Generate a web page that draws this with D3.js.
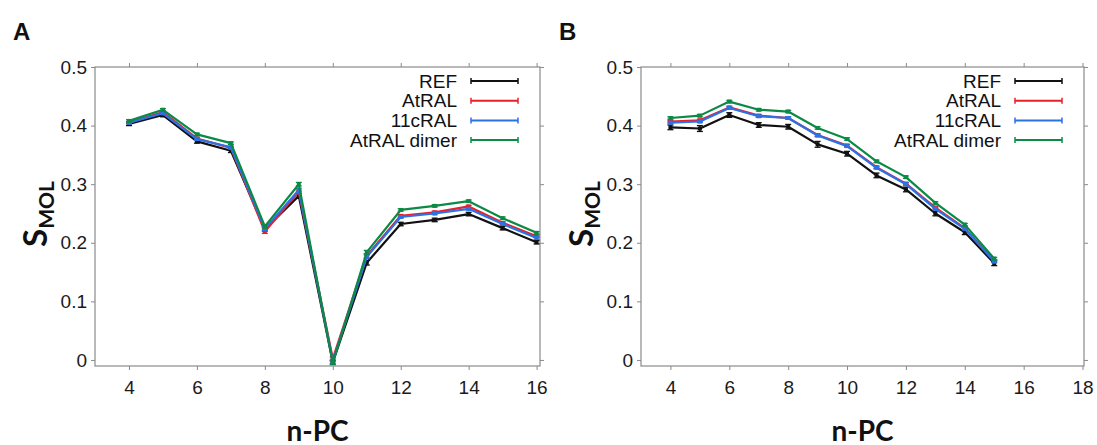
<!DOCTYPE html>
<html>
<head>
<meta charset="utf-8">
<script src="https://cdn.jsdelivr.net/npm/d3@7"></script>
<style>
body { margin: 0; background: #fff; }
text { font-family: "Liberation Sans", Arial, sans-serif; }
</style>
</head>
<body>
<svg width="1097" height="445"></svg>
<script>
// series names / colours
var seriesNames = ["REF", "AtRAL", "11cRAL", "AtRAL dimer"]
var seriesColors = ["#111111", "#e8202a", "#2a72e6", "#0b8a45"]

// panel A : n-PC 4..16
var nA = [4, 5, 6, 7, 8, 9, 10, 11, 12, 13, 14, 15, 16]
var refA   = [0.403, 0.418, 0.373, 0.357, 0.223, 0.280, -0.004, 0.166, 0.232, 0.239, 0.249, 0.225, 0.201]
var atralA = [0.405, 0.423, 0.378, 0.362, 0.219, 0.287,  0.002, 0.178, 0.246, 0.252, 0.262, 0.234, 0.211]
var cralA  = [0.405, 0.421, 0.377, 0.363, 0.224, 0.290, -0.002, 0.176, 0.244, 0.250, 0.258, 0.232, 0.208]
var dimerA = [0.408, 0.427, 0.385, 0.370, 0.228, 0.300, -0.005, 0.184, 0.256, 0.263, 0.271, 0.242, 0.217]
var errRefA   = [0.003, 0.003, 0.003, 0.003, 0.003, 0.004, 0.003, 0.004, 0.003, 0.003, 0.003, 0.003, 0.003]
var errOtherA = [0.002, 0.002, 0.002, 0.002, 0.003, 0.003, 0.003, 0.003, 0.002, 0.002, 0.002, 0.002, 0.002]

// panel B : n-PC 4..15
var nB = [4, 5, 6, 7, 8, 9, 10, 11, 12, 13, 14, 15]
var refB   = [0.397, 0.395, 0.418, 0.401, 0.398, 0.368, 0.352, 0.315, 0.291, 0.250, 0.218, 0.165]
var atralB = [0.407, 0.409, 0.431, 0.417, 0.413, 0.384, 0.366, 0.329, 0.301, 0.260, 0.225, 0.169]
var cralB  = [0.405, 0.407, 0.430, 0.416, 0.413, 0.383, 0.365, 0.328, 0.300, 0.258, 0.224, 0.168]
var dimerB = [0.413, 0.417, 0.441, 0.427, 0.424, 0.396, 0.377, 0.339, 0.312, 0.268, 0.231, 0.173]
var errRefB   = [0.004, 0.005, 0.004, 0.004, 0.004, 0.005, 0.004, 0.004, 0.004, 0.004, 0.004, 0.004]
var errOtherB = [0.002, 0.002, 0.002, 0.002, 0.002, 0.002, 0.002, 0.002, 0.002, 0.002, 0.002, 0.002]

var yTicks = [0, 0.1, 0.2, 0.3, 0.4, 0.5]
var xTicksA = [4, 6, 8, 10, 12, 14, 16]
var xTicksB = [4, 6, 8, 10, 12, 14, 16, 18]

var svg = d3.select("svg")
var plotTop = 67, plotBottom = 366

var panels = [
  { label: "A", left: 95, right: 540, xDomain: [3, 16.1], xTicks: xTicksA, n: nA,
    series: [refA, atralA, cralA, dimerA], err: [errRefA, errOtherA, errOtherA, errOtherA] },
  { label: "B", left: 641, right: 1084, xDomain: [3, 18.05], xTicks: xTicksB, n: nB,
    series: [refB, atralB, cralB, dimerB], err: [errRefB, errOtherB, errOtherB, errOtherB] }
]

var drawPanel = function(p)
{
  var x = d3.scaleLinear().domain(p.xDomain).range([p.left, p.right])
  var y = d3.scaleLinear().domain([-0.0103, 0.5]).range([plotBottom, plotTop])
  var g = svg.append("g")

  var styleAxis = function(sel, labels)
  {
    sel.select(".domain").remove()
    sel.selectAll(".tick line").attr("stroke", "#8a8a8a")
    sel.selectAll(".tick text").attr("fill", "#1a1a1a").style("font-size", "19px")
    if (!labels) sel.selectAll(".tick text").remove()
  }

  g.append("g").attr("transform", "translate(" + p.left + ",0)")
    .call(d3.axisLeft(y).tickValues(yTicks).tickSize(4).tickPadding(4)
      .tickFormat(function(d) { return d === 0 ? "0" : d3.format(".1f")(d) }))
    .call(styleAxis, true)
  g.append("g").attr("transform", "translate(" + p.right + ",0)")
    .call(d3.axisRight(y).tickValues(yTicks).tickSize(4))
    .call(styleAxis, false)
  g.append("g").attr("transform", "translate(0," + plotBottom + ")")
    .call(d3.axisBottom(x).tickValues(p.xTicks).tickSize(4).tickPadding(11))
    .call(styleAxis, true)
  g.append("g").attr("transform", "translate(0," + plotTop + ")")
    .call(d3.axisTop(x).tickValues(p.xTicks).tickSize(4))
    .call(styleAxis, false)

  g.append("rect")
    .attr("x", p.left).attr("y", plotTop)
    .attr("width", p.right - p.left).attr("height", plotBottom - plotTop)
    .attr("fill", "none").attr("stroke", "#8a8a8a").attr("stroke-width", 1.2)

  var line = d3.line()
    .x(function(d) { return x(d.n) })
    .y(function(d) { return y(d.v) })

  p.series.forEach(function(vals, i)
  {
    var pts = vals.map(function(v, j) { return { n: p.n[j], v: v, e: p.err[i][j] } })
    var color = seriesColors[i]
    var sg = g.append("g")
    sg.append("path").datum(pts)
      .attr("d", line).attr("fill", "none")
      .attr("stroke", color).attr("stroke-width", 2.2)
      .attr("stroke-linejoin", "round")
    var eb = sg.selectAll(".eb").data(pts).enter().append("g")
    eb.append("line")
      .attr("x1", function(d) { return x(d.n) }).attr("x2", function(d) { return x(d.n) })
      .attr("y1", function(d) { return y(d.v - d.e) }).attr("y2", function(d) { return y(d.v + d.e) })
      .attr("stroke", color).attr("stroke-width", 1.5)
    eb.append("line")
      .attr("x1", function(d) { return x(d.n) - 3 }).attr("x2", function(d) { return x(d.n) + 3 })
      .attr("y1", function(d) { return y(d.v + d.e) }).attr("y2", function(d) { return y(d.v + d.e) })
      .attr("stroke", color).attr("stroke-width", 1.3)
    eb.append("line")
      .attr("x1", function(d) { return x(d.n) - 3 }).attr("x2", function(d) { return x(d.n) + 3 })
      .attr("y1", function(d) { return y(d.v - d.e) }).attr("y2", function(d) { return y(d.v - d.e) })
      .attr("stroke", color).attr("stroke-width", 1.3)
    eb.append("rect")
      .attr("x", function(d) { return x(d.n) - 2 }).attr("y", function(d) { return y(d.v) - 2 })
      .attr("width", 4).attr("height", 4).attr("fill", color)
  })

  // legend
  var lx = p.right - 22
  var leg = g.selectAll(".leg").data(seriesNames).enter().append("g")
    .attr("transform", function(d, i) { return "translate(0," + (81 + i * 19.7) + ")" })
  leg.append("text")
    .attr("x", lx - 61).attr("dy", "0.35em").attr("text-anchor", "end")
    .style("font-size", "19px").attr("fill", "#111")
    .text(function(d) { return d })
  leg.append("line")
    .attr("x1", lx - 47).attr("x2", lx).attr("y1", 0).attr("y2", 0)
    .attr("stroke", function(d, i) { return seriesColors[i] }).attr("stroke-width", 2)
  leg.append("line")
    .attr("x1", lx - 47).attr("x2", lx - 47).attr("y1", -3).attr("y2", 3)
    .attr("stroke", function(d, i) { return seriesColors[i] }).attr("stroke-width", 1.5)
  leg.append("line")
    .attr("x1", lx).attr("x2", lx).attr("y1", -3).attr("y2", 3)
    .attr("stroke", function(d, i) { return seriesColors[i] }).attr("stroke-width", 1.5)

  // axis titles
  g.append("text")
    .attr("x", (p.left + p.right) / 2).attr("y", 441)
    .attr("text-anchor", "middle")
    .style("font-family", "Lato, 'Open Sans', sans-serif").style("font-weight", "bold")
    .style("font-size", "28px").attr("fill", "#111")
    .text("n-PC")
  var yt = g.append("text")
    .attr("transform", "translate(" + (p.left - 48) + ",214) rotate(-90)")
    .attr("text-anchor", "middle")
    .style("font-family", "Lato, 'Open Sans', sans-serif").style("font-weight", "bold")
    .attr("fill", "#111")
  yt.append("tspan").style("font-size", "33px").text("S")
  yt.append("tspan").style("font-size", "21px").attr("dy", 7).text("MOL")

  svg.append("text")
    .attr("x", p.left - 82).attr("y", 40)
    .style("font-weight", "bold").style("font-size", "24px").attr("fill", "#111")
    .text(p.label)
}

panels.forEach(drawPanel)
</script>
</body>
</html>
